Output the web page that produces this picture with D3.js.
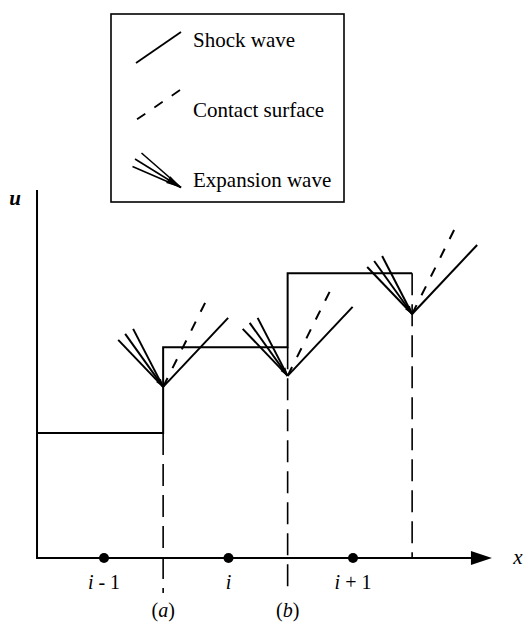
<!DOCTYPE html>
<html>
<head>
<meta charset="utf-8">
<script src="https://cdn.jsdelivr.net/npm/d3@7"></script>
<style>
  html, body { margin: 0; padding: 0; background: #fff; }
  svg { display: block; }
  text { font-family: "Liberation Serif", "Times New Roman", serif; fill: #000; }
</style>
</head>
<body>
<svg id="chart" width="524" height="623"></svg>
<script>
// ---------- data ----------
const cellLabels = ["i - 1", "i", "i + 1"];           // cell centre labels
const cellCenters = [1, 2, 3];                        // cell centre positions (cell units)
const interfaceLabels = ["a", "b", ""];               // interface labels, shown as (a), (b)
const interfacePos = [1.475, 2.475, 3.475];           // interface positions
const interfaceDashBottom = [-0.95, -0.95, 0];        // how far each dashed boundary goes down (u units)
const uCells = [3.40, 5.73, 7.74];                    // piecewise-constant u for cells i-1, i, i+1
const apexU = [4.65, 4.95, 6.63];                     // u level of the wave-fan apex at each interface
const fanDirs = [[-0.361, 1.277], [-0.305, 1.440], [-0.241, 1.576]]; // expansion fan rays (dx, du)
const contactDir = [0.337, 2.283];                    // contact surface ray (dx, du)
const shockDir = [0.522, 1.875];                      // shock ray (dx, du)
const legendItems = ["Shock wave", "Contact surface", "Expansion wave"];
const axisXRange = [0.462, 4.116];
const axisUMax = 10;

// ---------- scales ----------
const x = d3.scaleLinear().domain([1, 3]).range([104, 353]);
const y = d3.scaleLinear().domain([0, 10]).range([558, 190]);

const svg = d3.select("#chart");
svg.append("rect").attr("width", 524).attr("height", 623).attr("fill", "#fff");

const line = d3.line().x(d => x(d[0])).y(d => y(d[1]));

// ---------- axes ----------
svg.append("path")
  .attr("d", line([[axisXRange[0], axisUMax], [axisXRange[0], 0], [axisXRange[1] - 0.16, 0]]))
  .attr("fill", "none").attr("stroke", "#000").attr("stroke-width", 2);
const tipX = x(axisXRange[1]), tipY = y(0);
svg.append("path")
  .attr("d", `M${tipX},${tipY} L${tipX - 21},${tipY - 7} L${tipX - 21},${tipY + 7} Z`)
  .attr("fill", "#000");

svg.append("text").attr("x", 518).attr("y", y(0) + 6)
  .attr("text-anchor", "middle").attr("font-size", 21).attr("font-style", "italic").text("x");
svg.append("text").attr("x", 15).attr("y", y(axisUMax) + 15)
  .attr("text-anchor", "middle").attr("font-size", 21).attr("font-style", "italic")
  .attr("font-weight", "bold").text("u");

// ---------- dashed cell boundaries ----------
interfacePos.forEach((p, k) => {
  svg.append("path")
    .attr("d", line([[p, uCells[k]], [p, interfaceDashBottom[k]]]))
    .attr("stroke", "#000").attr("stroke-width", 1.6)
    .attr("stroke-dasharray", "22,9").attr("fill", "none");
});

// ---------- piecewise-constant data ----------
const stepPts = [[axisXRange[0], uCells[0]], [interfacePos[0], uCells[1]], [interfacePos[1], uCells[2]], [interfacePos[2], uCells[2]]];
svg.append("path")
  .attr("d", d3.line().x(d => x(d[0])).y(d => y(d[1])).curve(d3.curveStepAfter)(stepPts))
  .attr("fill", "none").attr("stroke", "#000").attr("stroke-width", 2);

// ---------- cell centres ----------
svg.selectAll("circle.cell").data(cellCenters).join("circle")
  .attr("class", "cell").attr("cx", d => x(d)).attr("cy", y(0)).attr("r", 5).attr("fill", "#000");

const lab = svg.selectAll("text.cell").data(cellLabels).join("text")
  .attr("class", "cell").attr("x", (d, i) => x(cellCenters[i])).attr("y", 589)
  .attr("text-anchor", "middle").attr("font-size", 20);
lab.append("tspan").attr("font-style", "italic").text(d => d.slice(0, 1));
lab.append("tspan").text(d => d.slice(1));

const il = svg.selectAll("text.iface").data(interfaceLabels.filter(d => d)).join("text")
  .attr("class", "iface").attr("x", (d, i) => x(interfacePos[i])).attr("y", 617)
  .attr("text-anchor", "middle").attr("font-size", 20);
il.append("tspan").text("(");
il.append("tspan").attr("font-style", "italic").text(d => d);
il.append("tspan").text(")");

// ---------- wave patterns ----------
interfacePos.forEach((p, k) => {
  const a = [p, apexU[k]];
  const g = svg.append("g");
  fanDirs.forEach(d => {
    g.append("path").attr("d", line([a, [p + d[0], apexU[k] + d[1]]]))
      .attr("stroke", "#000").attr("stroke-width", 2).attr("fill", "none");
  });
  const mid = fanDirs[1];
  const ang = Math.atan2(y(apexU[k]) - y(apexU[k] + mid[1]), x(p) - x(p + mid[0]));
  const ax = x(p), ay = y(apexU[k]);
  const L = 8, W = 3;
  const bx = ax - L * Math.cos(ang), by = ay - L * Math.sin(ang);
  g.append("path")
    .attr("d", `M${ax},${ay} L${bx - W * Math.sin(ang)},${by + W * Math.cos(ang)} L${bx + W * Math.sin(ang)},${by - W * Math.cos(ang)} Z`)
    .attr("fill", "#000");
  g.append("path").attr("d", line([[p + contactDir[0], apexU[k] + contactDir[1]], a]))
    .attr("stroke", "#000").attr("stroke-width", 2).attr("stroke-dasharray", "10,11").attr("fill", "none");
  g.append("path").attr("d", line([a, [p + shockDir[0], apexU[k] + shockDir[1]]]))
    .attr("stroke", "#000").attr("stroke-width", 2).attr("fill", "none");
});

// ---------- legend ----------
const lg = svg.append("g");
lg.append("rect").attr("x", 111).attr("y", 14).attr("width", 233).attr("height", 188)
  .attr("fill", "#fff").attr("stroke", "#000").attr("stroke-width", 1.6);
lg.append("line").attr("x1", 136).attr("y1", 63).attr("x2", 181).attr("y2", 32)
  .attr("stroke", "#000").attr("stroke-width", 1.8);
lg.append("line").attr("x1", 180).attr("y1", 90).attr("x2", 136).attr("y2", 120)
  .attr("stroke", "#000").attr("stroke-width", 1.8).attr("stroke-dasharray", "10,11");
[[141.5, 153], [135, 159], [132.5, 166.5]].forEach(s => {
  lg.append("line").attr("x1", s[0]).attr("y1", s[1]).attr("x2", 181).attr("y2", 187.5)
    .attr("stroke", "#000").attr("stroke-width", 1.6);
});
{
  const ax = 181, ay = 187.5;
  const ang = Math.atan2(187.5 - 159, 181 - 135);
  const L = 15, W = 4;
  const bx = ax - L * Math.cos(ang), by = ay - L * Math.sin(ang);
  lg.append("path")
    .attr("d", `M${ax},${ay} L${bx - W * Math.sin(ang)},${by + W * Math.cos(ang)} L${bx + W * Math.sin(ang)},${by - W * Math.cos(ang)} Z`)
    .attr("fill", "#000");
}
lg.selectAll("text").data(legendItems).join("text")
  .attr("x", 193).attr("y", (d, i) => [47, 117, 187][i])
  .attr("font-size", 21).text(d => d);
</script>
</body>
</html>
